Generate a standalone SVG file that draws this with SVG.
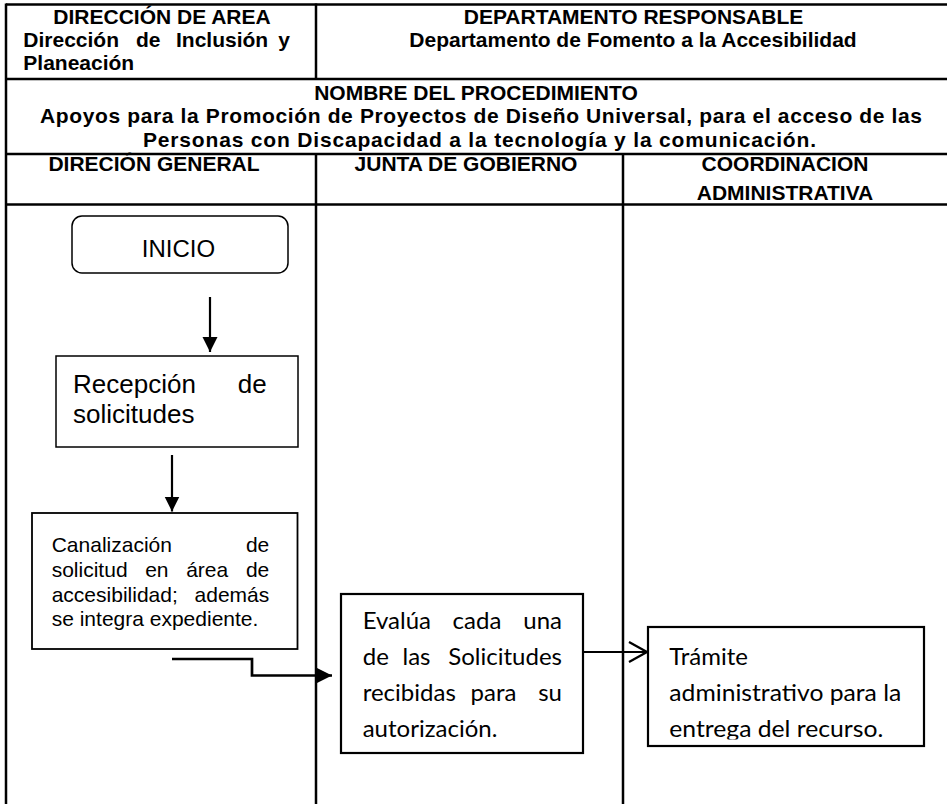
<svg xmlns="http://www.w3.org/2000/svg" width="947" height="804" viewBox="0 0 947 804">
<defs>
<style>
.tbl{stroke:#000;stroke-width:2.5;fill:none}
.hb{font-family:"Liberation Sans",Arial,sans-serif;font-weight:bold;font-size:21px;fill:#000}
.box{fill:#fff;stroke:#000;stroke-width:1.5}
.box2{fill:#fff;stroke:#000;stroke-width:2.2}
.ar{font-family:"Liberation Sans",Arial,sans-serif;fill:#000}
.cal{font-family:Lato,"Open Sans",sans-serif;font-size:24px;fill:#000}
.conn{stroke:#000;fill:none;stroke-width:2.2}
</style>
<marker id="head" markerUnits="userSpaceOnUse" markerWidth="16" markerHeight="16" refX="15" refY="7.5" orient="auto">
<path d="M0,0 L15,7.5 L0,15 Z" fill="#000"/>
</marker>
<marker id="open" markerUnits="userSpaceOnUse" markerWidth="22" markerHeight="24" refX="19" refY="11" orient="auto">
<path d="M1,1 L19,11 L1,21" fill="none" stroke="#000" stroke-width="2.3"/>
</marker>
<clipPath id="clipT">
<rect x="640" y="600" width="300" height="139.5"/>
</clipPath>
</defs>

<g id="table">
<line class="tbl" x1="6" y1="4.5" x2="947" y2="4.5"/>
<line class="tbl" x1="6" y1="79" x2="947" y2="79"/>
<line class="tbl" x1="6" y1="154" x2="947" y2="154"/>
<line class="tbl" x1="6" y1="204.5" x2="947" y2="204.5"/>
<line class="tbl" x1="6" y1="3.5" x2="6" y2="804"/>
<line class="tbl" x1="316" y1="3.5" x2="316" y2="79"/>
<line class="tbl" x1="316" y1="154" x2="316" y2="804"/>
<line class="tbl" x1="623" y1="154" x2="623" y2="804"/>
</g>

<g id="header">
<text class="hb" x="162" y="24" text-anchor="middle">DIRECCIÓN DE AREA</text>
<text class="hb" y="47"><tspan x="23.3">Dirección</tspan><tspan x="136">de</tspan><tspan x="176">Inclusión</tspan><tspan x="290" text-anchor="end">y</tspan></text>
<text class="hb" x="23.3" y="70">Planeación</text>
<text class="hb" x="633.5" y="24" text-anchor="middle">DEPARTAMENTO RESPONSABLE</text>
<text class="hb" x="633" y="47" text-anchor="middle">Departamento de Fomento a la Accesibilidad</text>
<text class="hb" x="476" y="99.5" text-anchor="middle">NOMBRE DEL PROCEDIMIENTO</text>
<text class="hb" x="40" y="123" font-size="22" textLength="882" lengthAdjust="spacing">Apoyos para la Promoción de Proyectos de Diseño Universal, para el acceso de las</text>
<text class="hb" x="143" y="146.5" font-size="22" textLength="673" lengthAdjust="spacing">Personas con Discapacidad a la tecnología y la comunicación.</text>
<text class="hb" x="154" y="170.5" text-anchor="middle">DIRECIÓN GENERAL</text>
<text class="hb" x="466" y="170.5" text-anchor="middle">JUNTA DE GOBIERNO</text>
<text class="hb" x="785" y="170.5" text-anchor="middle">COORDINACION</text>
<text class="hb" x="785" y="200" text-anchor="middle">ADMINISTRATIVA</text>
</g>

<g id="connectors">
<line class="conn" x1="210" y1="297" x2="210" y2="352" marker-end="url(#head)"/>
<line class="conn" x1="172" y1="455" x2="172" y2="511.5" marker-end="url(#head)"/>
<polyline class="conn" style="stroke-width:2.7" points="172,659 252,659 252,675.5 332,675.5" marker-end="url(#head)"/>
<line class="conn" x1="583" y1="652" x2="647" y2="652" marker-end="url(#open)"/>
</g>

<g id="inicio">
<rect class="box" x="72" y="216" width="216" height="57" rx="10" ry="10"/>
<text class="ar" x="178.5" y="257" font-size="24" text-anchor="middle">INICIO</text>
</g>

<g id="recepcion">
<rect class="box" x="56" y="356" width="242" height="91"/>
<text class="ar" font-size="26" y="393.3"><tspan x="73">Recepción</tspan><tspan x="266.7" text-anchor="end">de</tspan></text>
<text class="ar" font-size="26" x="73" y="423.3">solicitudes</text>
</g>

<g id="canalizacion">
<rect class="box" style="stroke-width:1.8" x="32" y="513" width="265.5" height="136"/>
<text class="ar" font-size="21" y="552"><tspan x="51.7">Canalización</tspan><tspan x="269.3" text-anchor="end">de</tspan></text>
<text class="ar" font-size="21" y="577"><tspan x="51.7">solicitud</tspan><tspan x="145.2">en</tspan><tspan x="186.2">área</tspan><tspan x="269.3" text-anchor="end">de</tspan></text>
<text class="ar" font-size="21" y="601.5"><tspan x="51.7">accesibilidad;</tspan><tspan x="269.3" text-anchor="end">además</tspan></text>
<text class="ar" font-size="21" x="51.7" y="626">se integra expediente.</text>
</g>

<g id="evalua">
<rect class="box2" x="341" y="594" width="242" height="159"/>
<text class="cal" y="629"><tspan x="362.7">Evalúa</tspan><tspan x="477" text-anchor="middle">cada</tspan><tspan x="562" text-anchor="end">una</tspan></text>
<text class="cal" y="665"><tspan x="362.7">de</tspan><tspan x="416.5" text-anchor="middle">las</tspan><tspan x="562" text-anchor="end">Solicitudes</tspan></text>
<text class="cal" y="701"><tspan x="362.7">recibidas</tspan><tspan x="493.5" text-anchor="middle">para</tspan><tspan x="562" text-anchor="end">su</tspan></text>
<text class="cal" x="362.7" y="737">autorización.</text>
</g>

<g id="tramite">
<rect class="box2" x="648" y="627" width="276" height="119"/>
<text class="cal" x="669.3" y="665">Trámite</text>
<text class="cal" x="669.3" y="701" textLength="232" lengthAdjust="spacingAndGlyphs">administrativo para la</text>
<text class="cal" x="669.3" y="737" textLength="214" lengthAdjust="spacingAndGlyphs" clip-path="url(#clipT)">entrega del recurso.</text>
</g>
</svg>
